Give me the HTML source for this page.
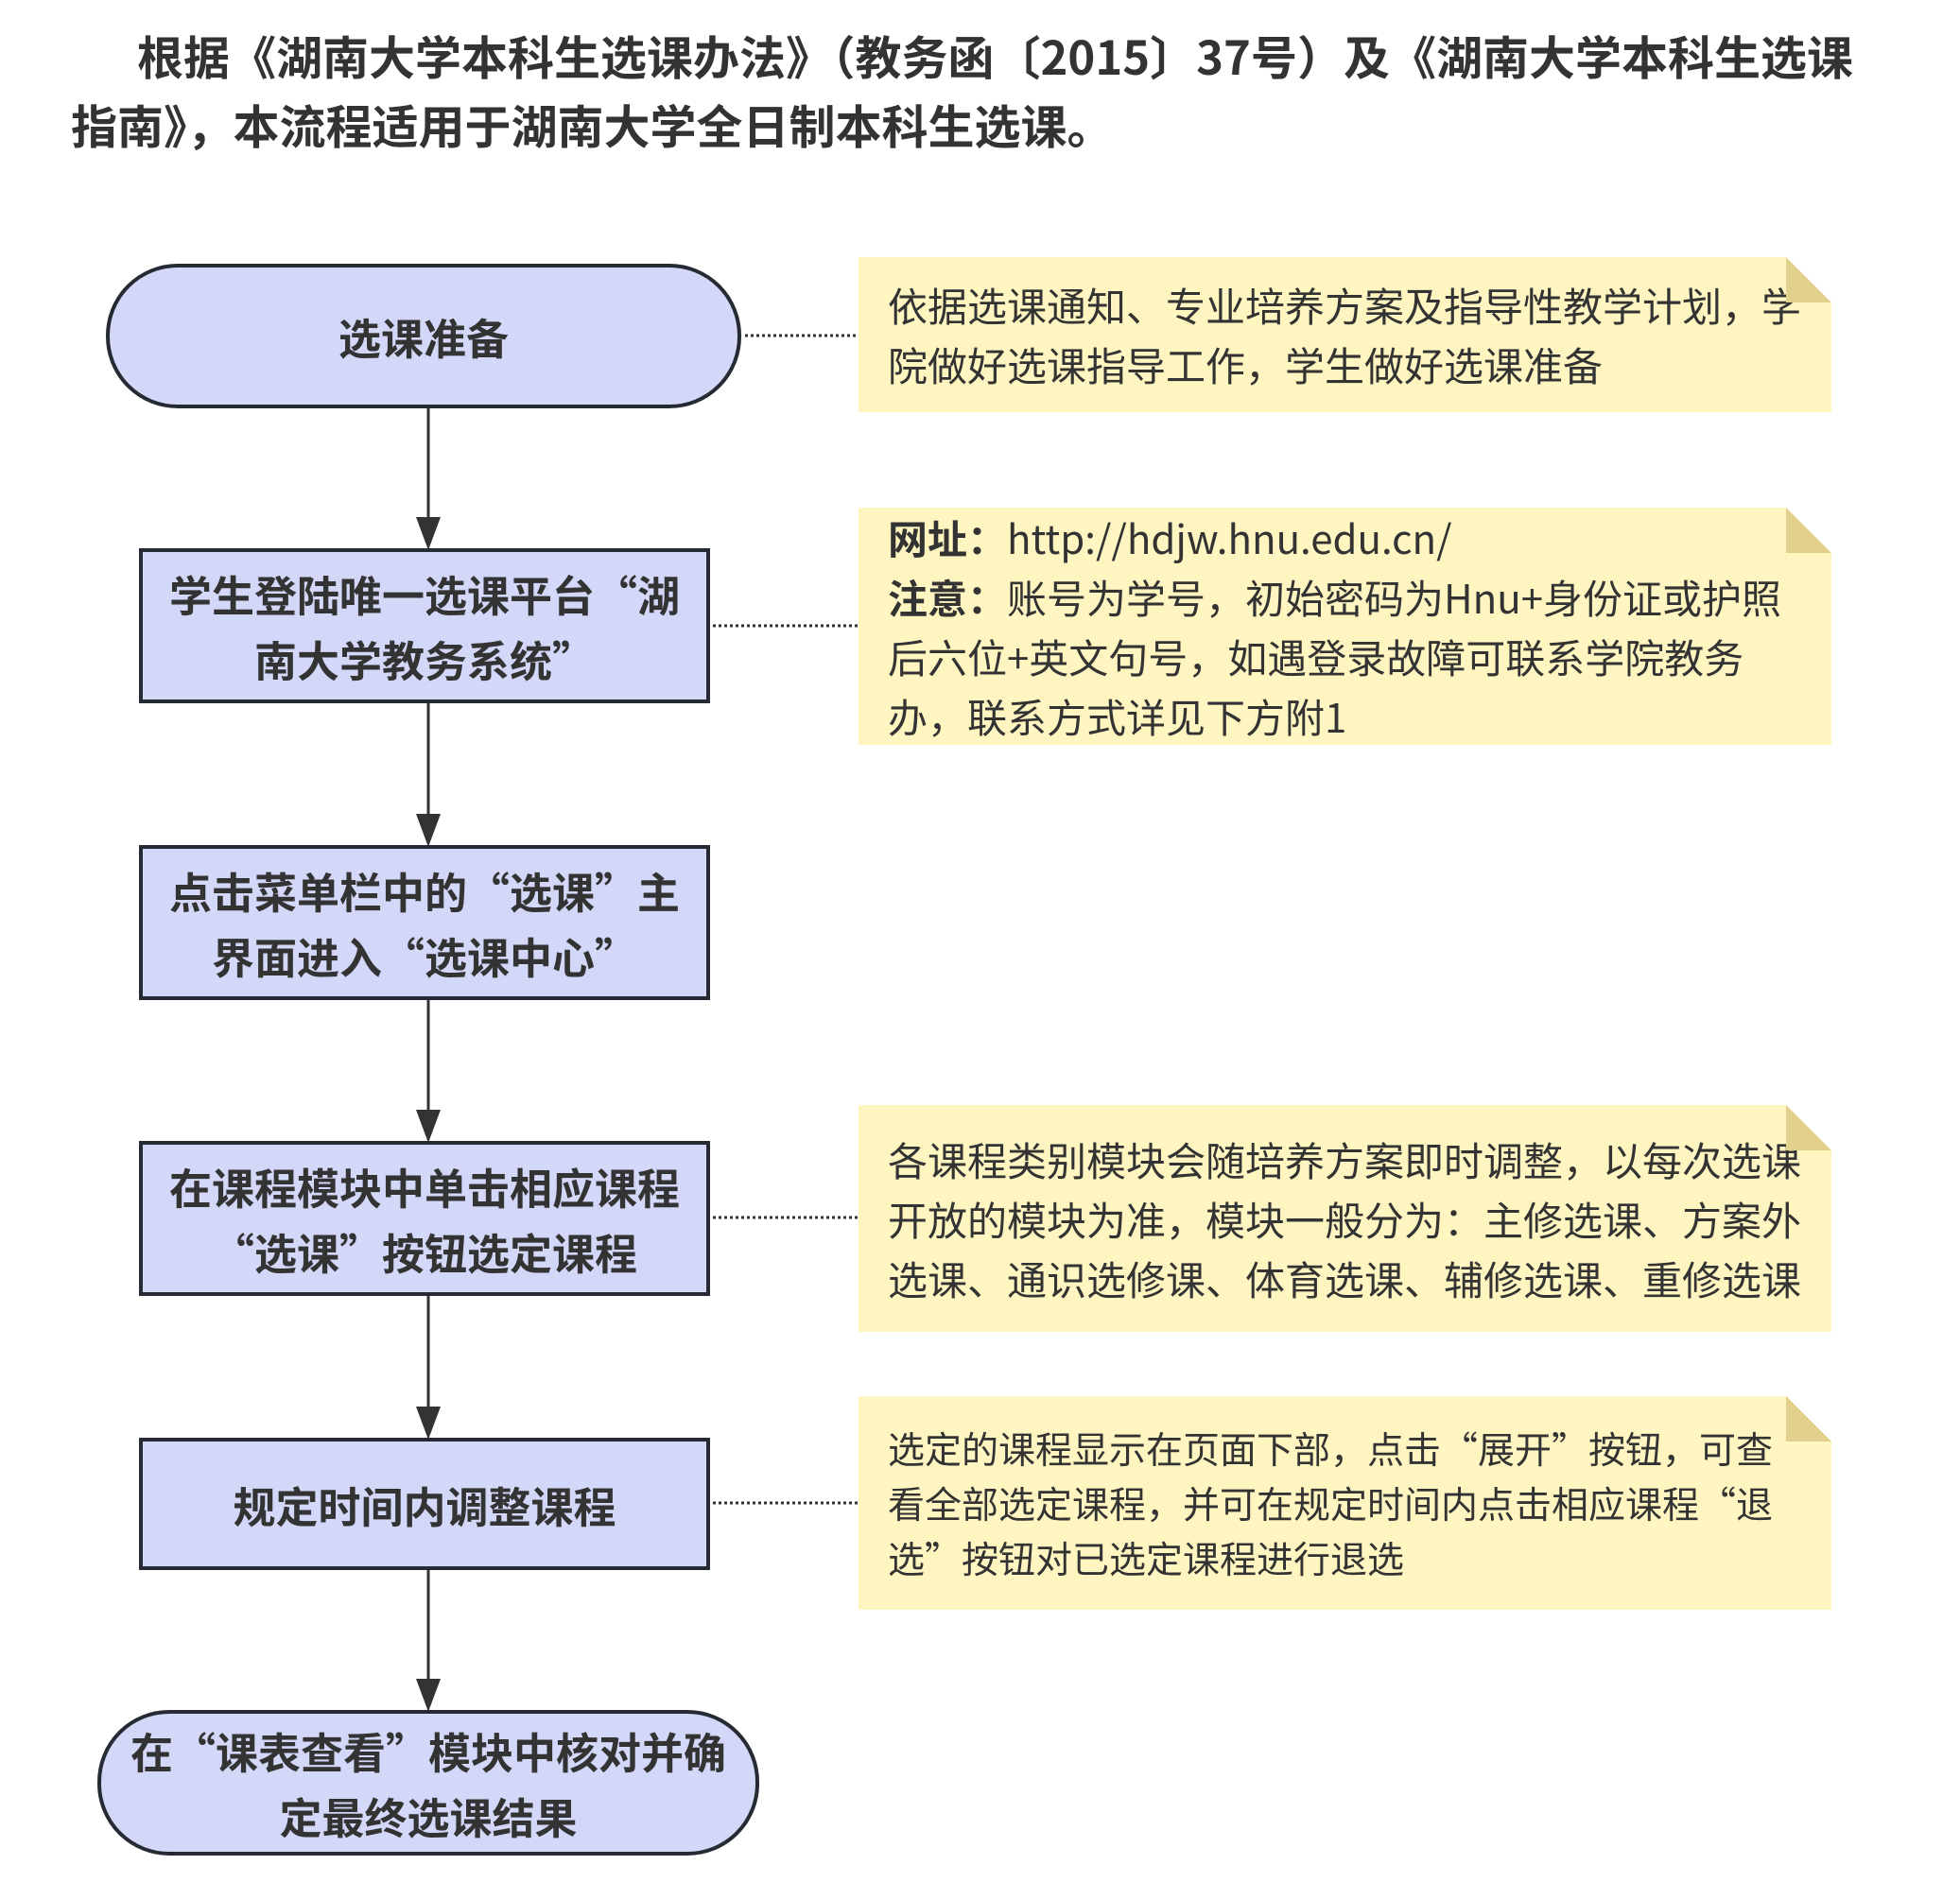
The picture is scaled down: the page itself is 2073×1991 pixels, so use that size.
<!DOCTYPE html>
<html><head><meta charset="utf-8"><style>
body{margin:0;background:#fff;width:2073px;height:1991px;overflow:hidden;position:relative;font-family:"Noto Sans CJK SC","Liberation Sans",sans-serif;}
.t{position:absolute;font-weight:bold;font-size:49px;line-height:60px;color:#333;white-space:nowrap;}
.n{position:absolute;box-sizing:border-box;background:#d3d7f8;border:4px solid #262a33;display:flex;align-items:center;justify-content:center;text-align:center;font-weight:bold;font-size:45px;line-height:69px;color:#333;}
.note{position:absolute;background:#fff5c1;box-sizing:border-box;padding:0 0 0 31px;display:flex;flex-direction:column;justify-content:center;color:#333;font-size:42px;line-height:63px;white-space:nowrap;clip-path:polygon(0 0,calc(100% - 48px) 0,100% 48px,100% 100%,0 100%);}
.fold{position:absolute;width:48px;height:48px;background:#e2d18c;clip-path:polygon(0 0,100% 100%,0 100%);}
</style></head><body>
<div class="t" style="left:145px;top:29px;">根据《湖南大学本科生选课办法》（教务函〔2015〕37号）及《湖南大学本科生选课</div>
<div class="t" style="left:75px;top:102px;">指南》，本流程适用于湖南大学全日制本科生选课。</div>

<svg style="position:absolute;left:0;top:0" width="2073" height="1991">
<g stroke="#333" stroke-width="3">
<line x1="453" y1="430" x2="453" y2="555"/>
<line x1="453" y1="743" x2="453" y2="869"/>
<line x1="453" y1="1056" x2="453" y2="1182"/>
<line x1="453" y1="1370" x2="453" y2="1496"/>
<line x1="453" y1="1659" x2="453" y2="1784"/>
</g>
<g fill="#333">
<polygon points="440,547 466,547 453,582"/>
<polygon points="440,861 466,861 453,896"/>
<polygon points="440,1174 466,1174 453,1209"/>
<polygon points="440,1488 466,1488 453,1523"/>
<polygon points="440,1776 466,1776 453,1811"/>
</g>
<g stroke="#333" stroke-width="3" stroke-dasharray="3,3">
<line x1="788" y1="355" x2="910" y2="355"/>
<line x1="754" y1="662" x2="910" y2="662"/>
<line x1="754" y1="1288" x2="910" y2="1288"/>
<line x1="754" y1="1590" x2="910" y2="1590"/>
</g>
</svg>

<div class="n" style="left:112px;top:279px;width:672px;height:153px;border-radius:76px;">选课准备</div>
<div class="n" style="left:147px;top:580px;width:604px;height:164px;">学生登陆唯一选课平台“湖<br>南大学教务系统”</div>
<div class="n" style="left:147px;top:894px;width:604px;height:164px;">点击菜单栏中的“选课”主<br>界面进入“选课中心”</div>
<div class="n" style="left:147px;top:1207px;width:604px;height:164px;">在课程模块中单击相应课程<br>“选课”按钮选定课程</div>
<div class="n" style="left:147px;top:1521px;width:604px;height:140px;">规定时间内调整课程</div>
<div class="n" style="left:103px;top:1809px;width:700px;height:154px;border-radius:76px;">在“课表查看”模块中核对并确<br>定最终选课结果</div>

<div class="note" style="left:908px;top:272px;width:1029px;height:164px;"><div>依据选课通知、专业培养方案及指导性教学计划，学</div><div>院做好选课指导工作，学生做好选课准备</div></div>
<div class="fold" style="left:1889px;top:272px;"></div>
<div class="note" style="left:908px;top:537px;width:1029px;height:251px;"><div><b>网址：</b>http://hdjw.hnu.edu.cn/</div><div><b>注意：</b>账号为学号，初始密码为Hnu+身份证或护照</div><div>后六位+英文句号，如遇登录故障可联系学院教务</div><div>办，联系方式详见下方附1</div></div>
<div class="fold" style="left:1889px;top:537px;"></div>
<div class="note" style="left:908px;top:1169px;width:1029px;height:240px;"><div>各课程类别模块会随培养方案即时调整，以每次选课</div><div>开放的模块为准，模块一般分为：主修选课、方案外</div><div>选课、通识选修课、体育选课、辅修选课、重修选课</div></div>
<div class="fold" style="left:1889px;top:1169px;"></div>
<div class="note" style="left:908px;top:1477px;width:1029px;height:226px;font-size:39px;line-height:58px;"><div>选定的课程显示在页面下部，点击“展开”按钮，可查</div><div>看全部选定课程，并可在规定时间内点击相应课程“退</div><div>选”按钮对已选定课程进行退选</div></div>
<div class="fold" style="left:1889px;top:1477px;"></div>
</body></html>
